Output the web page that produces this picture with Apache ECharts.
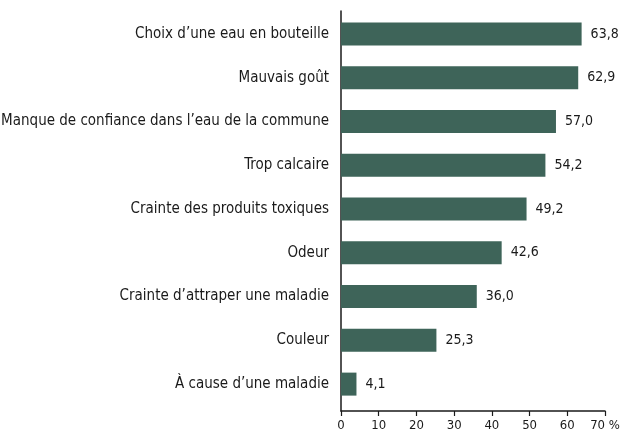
<!DOCTYPE html>
<html>
<head>
<meta charset="utf-8">
<script src="https://cdn.jsdelivr.net/npm/echarts@6/dist/echarts.min.js"></script>
<style>
  html, body { margin: 0; padding: 0; background: #fff; }
  #chart { width: 620px; height: 438px; }
</style>
</head>
<body>
<div id="chart"></div>
<script>
// catégories (de haut en bas)
const categories = [
  'Choix d\u2019une eau en bouteille',
  'Mauvais goût',
  'Manque de confiance dans l\u2019eau de la commune',
  'Trop calcaire',
  'Crainte des produits toxiques',
  'Odeur',
  'Crainte d\u2019attraper une maladie',
  'Couleur',
  'À cause d\u2019une maladie'
];
const values = [63.8, 62.9, 57.0, 54.2, 49.2, 42.6, 36.0, 25.3, 4.1];
const tickLabels = ['0', '10', '20', '30', '40', '50', '60', '70 %'];

const FONT = 'DejaVu Sans Condensed';
const INK = '#1a1a1a';

let option = {
  animation: false,
  // grid 0 : barres + libellés ; grid 1 : axes (un peu plus hauts, comme l'original)
  grid: [
    { left: 341, right: 15, top: 12, bottom: 32, outerBoundsMode: 'none' },
    { left: 341, right: 15, top: 11, bottom: 27, outerBoundsMode: 'none' }
  ],
  xAxis: [
    {
      gridIndex: 0, type: 'value', min: 0, max: 70, interval: 10,
      show: false
    },
    {
      gridIndex: 1, type: 'value', min: 0, max: 70, interval: 10,
      axisLine: { show: true, lineStyle: { color: INK, width: 1.5 } },
      axisTick: { show: true, length: 5, lineStyle: { color: INK, width: 1.2 } },
      splitLine: { show: false },
      axisLabel: {
        color: INK,
        fontFamily: FONT,
        fontSize: 13,
        margin: 8,
        formatter: (v) => tickLabels[Math.round(v / 10)]
      }
    }
  ],
  yAxis: [
    {
      gridIndex: 0,
      type: 'category',
      inverse: true,
      data: categories,
      axisLine: { show: false },
      axisTick: { show: false },
      axisLabel: {
        color: INK,
        fontFamily: FONT,
        fontSize: 15,
        margin: 12
      }
    },
    {
      gridIndex: 1,
      type: 'value',
      axisLine: { show: true, lineStyle: { color: INK, width: 1.5 } },
      axisTick: { show: false },
      axisLabel: { show: false },
      splitLine: { show: false }
    }
  ],
  series: [
    {
      type: 'bar',
      xAxisIndex: 0,
      yAxisIndex: 0,
      data: values,
      barWidth: 23,
      itemStyle: { color: '#3e6459' },
      label: {
        show: true,
        position: 'right',
        distance: 9,
        color: INK,
        fontFamily: FONT,
        fontSize: 14,
        formatter: (p) => p.value.toFixed(1).replace('.', ',')
      }
    }
  ]
};

let myChart = echarts.init(document.getElementById('chart'));
myChart.setOption(option);
</script>
</body>
</html>
